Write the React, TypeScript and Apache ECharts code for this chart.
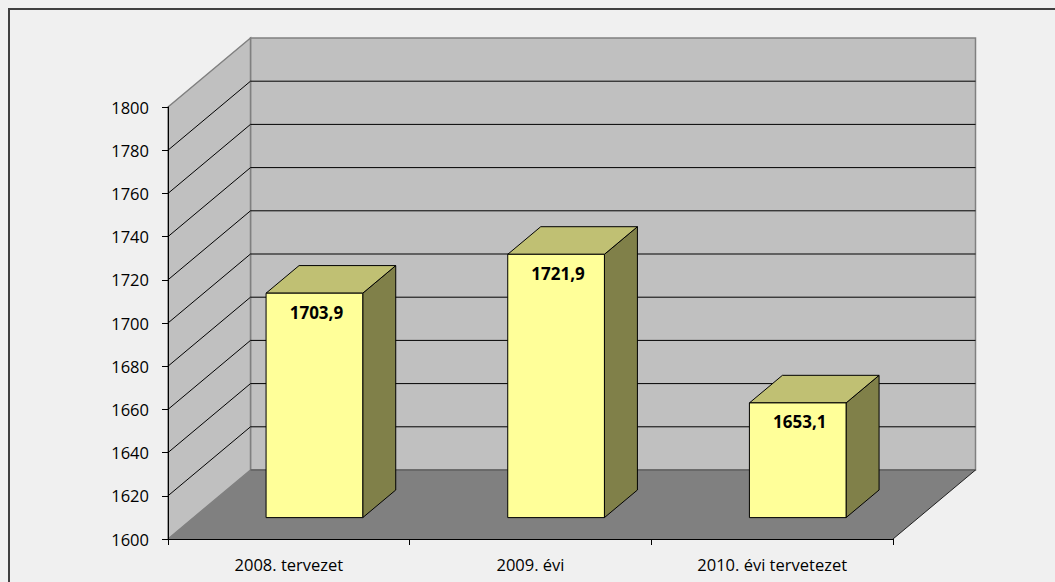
import React, { useEffect, useRef } from "react";
import * as echarts from "echarts";

const categories = ["2008. tervezet", "2009. évi", "2010. évi tervetezet"];
const values = [1703.9, 1721.9, 1653.1];
const yMin = 1600;
const yMax = 1800;
const yStep = 20;
const wallLevels = [1620, 1640, 1660, 1680, 1700, 1720, 1740, 1760, 1780];

// 3D projection (pixels) of the full depth of the plot
const DX = 82.5;
const DY = 69;
const D0 = 0.31; // bar front depth fraction
const D1 = 0.71; // bar back depth fraction
const BAR_W = 0.4; // bar width as fraction of category

const FONT = "'Open Sans', 'Liberation Sans', sans-serif";

export default function App() {
  const ref = useRef<HTMLDivElement>(null);
  useEffect(() => {
    if (!ref.current) return;
    const chart = echarts.init(ref.current, undefined, { renderer: "svg" });
    const n = categories.length;

    const frame = (api: any) => {
      const catW = api.size([1, 0])[0];
      const p0 = api.coord([0, yMin]);
      const pN = api.coord([n - 1, yMin]);
      const pT = api.coord([0, yMax]);
      return { x0: p0[0] - catW / 2, x1: pN[0] + catW / 2, yb: p0[1], yt: pT[1], catW };
    };

    const option: any = {
      animation: false,
      backgroundColor: "#f0f0f0",
      graphic: [
        {
          type: "rect",
          shape: { x: 9, y: 9, width: 1100, height: 620 },
          style: { fill: "none", stroke: "#404040", lineWidth: 2 },
          z: 100,
        },
      ],
      grid: { left: 168, right: 162, top: 107, bottom: 43, containLabel: false },
      xAxis: {
        type: "category",
        data: categories,
        boundaryGap: true,
        axisLine: { show: true, lineStyle: { color: "#000", width: 1 } },
        axisTick: { show: true, length: 6, interval: 0, lineStyle: { color: "#000" } },
        axisLabel: { color: "#000", fontFamily: FONT, fontSize: 16.5, margin: 17, interval: 0 },
        splitLine: { show: false },
        z: 10,
      },
      yAxis: {
        type: "value",
        min: yMin,
        max: yMax,
        interval: yStep,
        axisLine: { show: true, lineStyle: { color: "#000", width: 1 } },
        axisTick: { show: true, length: 6, lineStyle: { color: "#000" } },
        axisLabel: {
          color: "#000",
          fontFamily: FONT,
          fontSize: 16.5,
          margin: 19,
          formatter: (v: number) => String(v),
        },
        splitLine: { show: false },
        z: 10,
      },
      series: [
        {
          type: "custom",
          name: "walls",
          z: 1,
          clip: false,
          silent: true,
          data: [[0, yMin]],
          renderItem: (_p: any, api: any) => {
            const { x0, x1, yb, yt } = frame(api);
            return {
              type: "group",
              children: [
                {
                  type: "polygon",
                  shape: { points: [[x0 + DX, yt - DY], [x1 + DX, yt - DY], [x1 + DX, yb - DY], [x0 + DX, yb - DY]] },
                  style: { fill: "#c0c0c0", stroke: "#808080", lineWidth: 1.5 },
                },
                {
                  type: "polygon",
                  shape: { points: [[x0, yt], [x0 + DX, yt - DY], [x0 + DX, yb - DY], [x0, yb]] },
                  style: { fill: "#c0c0c0", stroke: "#808080", lineWidth: 1.5 },
                },
                {
                  type: "polygon",
                  shape: { points: [[x0, yb], [x0 + DX, yb - DY], [x1 + DX, yb - DY], [x1, yb]] },
                  style: { fill: "#808080", stroke: "none" },
                },
                {
                  type: "line",
                  shape: { x1: x0 + DX, y1: yb - DY, x2: x1 + DX, y2: yb - DY },
                  style: { stroke: "#606060", lineWidth: 1.5 },
                },
                {
                  type: "line",
                  shape: { x1: x1, y1: yb, x2: x1 + DX, y2: yb - DY },
                  style: { stroke: "#202020", lineWidth: 1 },
                },
              ],
            };
          },
        },
        {
          type: "custom",
          name: "grid",
          z: 2,
          clip: false,
          silent: true,
          data: wallLevels.map((v) => [0, v]),
          renderItem: (_p: any, api: any) => {
            const { x0, x1 } = frame(api);
            const y = api.coord([0, api.value(1)])[1];
            return {
              type: "polyline",
              shape: { points: [[x0, y], [x0 + DX, y - DY], [x1 + DX, y - DY]] },
              style: { stroke: "#000", lineWidth: 1, fill: "none" },
            };
          },
        },
        {
          type: "custom",
          name: "bars",
          z: 3,
          clip: false,
          data: values.map((v, i) => [i, v]),
          renderItem: (_p: any, api: any) => {
            const idx = api.value(0);
            const v = api.value(1);
            const catW = api.size([1, 0])[0];
            const [cx, yTop] = api.coord([idx, v]);
            const yBase = api.coord([idx, yMin])[1];
            const w = catW * BAR_W;
            const xl = cx - w / 2 + DX * D0;
            const xr = cx + w / 2 + DX * D0;
            const yt = yTop - DY * D0;
            const yb = yBase - DY * D0;
            const ddx = DX * (D1 - D0);
            const ddy = DY * (D1 - D0);
            const st = { stroke: "#000", lineWidth: 1 };
            return {
              type: "group",
              children: [
                {
                  type: "polygon",
                  shape: { points: [[xr, yt], [xr + ddx, yt - ddy], [xr + ddx, yb - ddy], [xr, yb]] },
                  style: { fill: "#808049", ...st },
                },
                {
                  type: "polygon",
                  shape: { points: [[xl, yt], [xr, yt], [xr + ddx, yt - ddy], [xl + ddx, yt - ddy]] },
                  style: { fill: "#c0c073", ...st },
                },
                {
                  type: "rect",
                  shape: { x: xl, y: yt, width: xr - xl, height: yb - yt },
                  style: { fill: "#ffff99", ...st },
                },
                {
                  type: "text",
                  x: (xl + xr) / 2 + 2,
                  y: yt + 19,
                  style: {
                    text: String(v).replace(".", ","),
                    fill: "#000",
                    font: `bold 17px ${FONT}`,
                    align: "center",
                    verticalAlign: "middle",
                  },
                },
              ],
            };
          },
        },
      ],
    };
    chart.setOption(option);
    return () => chart.dispose();
  }, []);
  return (
    <div
      ref={ref}
      style={{ position: "fixed", left: 0, top: 0, width: 1055, height: 582, background: "#f0f0f0" }}
    />
  );
}
